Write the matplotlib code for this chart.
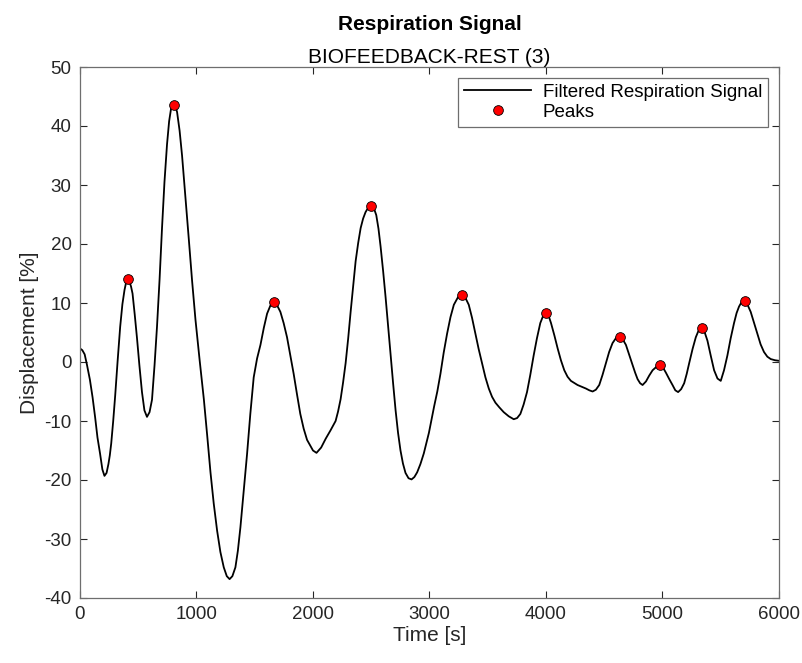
"""
Respiration signal with detected peaks (BIOFEEDBACK-REST session 3).
"""
import matplotlib
matplotlib.use("Agg")
from matplotlib import pylab as plt

plt.rcParams['font.family'] = ['Liberation Sans', 'DejaVu Sans']
plt.rcParams['axes.unicode_minus'] = False

# filtered respiration signal
time_s = [0, 20, 40, 60, 85, 108, 130, 150, 172, 192, 210, 228, 244, 256,
          268, 285, 302, 323, 345, 364, 382, 397, 411, 425, 438, 451, 470,
          489, 510, 532, 553, 575, 597, 618, 640, 661, 683, 704, 725, 747,
          765, 782, 795, 805, 818, 833, 855, 876, 905, 934, 962, 991, 1027,
          1063, 1092, 1120, 1148, 1177, 1205, 1234, 1260, 1284, 1308, 1334,
          1355, 1377, 1405, 1434, 1462, 1491, 1520, 1549, 1578, 1606, 1635,
          1664, 1692, 1720, 1748, 1777, 1805, 1834, 1862, 1891, 1920, 1949,
          2000, 2030, 2070, 2109, 2150, 2194, 2215, 2237, 2258, 2280, 2302,
          2323, 2345, 2366, 2388, 2409, 2430, 2451, 2475, 2500, 2522, 2543,
          2562, 2580, 2602, 2623, 2645, 2666, 2688, 2709, 2730, 2751, 2772,
          2794, 2820, 2846, 2870, 2894, 2922, 2951, 2995, 3040, 3067, 3094,
          3122, 3151, 3180, 3209, 3245, 3282, 3310, 3337, 3365, 3394, 3422,
          3451, 3480, 3509, 3537, 3566, 3600, 3637, 3680, 3723, 3752, 3780,
          3808, 3837, 3865, 3894, 3922, 3951, 3977, 4003, 4023, 4043, 4072,
          4100, 4128, 4157, 4185, 4214, 4271, 4343, 4372, 4400, 4428, 4457,
          4485, 4514, 4542, 4571, 4602, 4634, 4660, 4686, 4715, 4743, 4765,
          4786, 4808, 4829, 4858, 4886, 4915, 4943, 4960, 4978, 5003, 5029,
          5058, 5086, 5110, 5134, 5160, 5186, 5208, 5229, 5258, 5286, 5311,
          5336, 5361, 5386, 5415, 5443, 5472, 5500, 5528, 5557, 5585, 5614,
          5636, 5657, 5680, 5704, 5730, 5757, 5785, 5814, 5842, 5871, 5900,
          5929, 5965, 6000]
displacement = [2.3, 2.0, 1.3, -0.5, -3.0, -6.0, -9.4, -12.8, -15.5, -18.2,
                -19.3, -18.8, -17.3, -15.8, -13.8, -10.0, -5.7, 0.2, 6.0, 9.8,
                12.2, 13.6, 14.1, 13.6, 12.8, 11.6, 8.0, 4.1, -0.6, -5.1,
                -8.2, -9.3, -8.5, -6.4, -0.5, 6.0, 14.0, 22.7, 30.5, 36.9,
                40.8, 43.0, 43.5, 43.6, 43.3, 42.4, 39.2, 35.0, 28.0, 20.8,
                13.8, 7.2, 0.3, -6.3, -12.5, -18.7, -24.0, -28.6, -32.2, -34.8,
                -36.3, -36.8, -36.3, -34.8, -32.0, -28.0, -22.0, -15.6, -8.8,
                -2.6, 0.6, 2.9, 5.8, 8.2, 9.6, 10.1, 9.6, 8.5, 6.6, 4.2, 1.2,
                -2.0, -5.4, -8.8, -11.3, -13.2, -15.0, -15.4, -14.5, -13.0,
                -11.6, -10.0, -8.4, -6.3, -3.5, -0.2, 4.0, 8.5, 13.0, 17.1,
                20.2, 22.7, 24.3, 25.4, 26.2, 26.5, 26.1, 24.9, 22.6, 19.6,
                15.4, 11.0, 6.0, 1.1, -3.7, -8.2, -12.0, -15.0, -17.2, -18.8,
                -19.7, -19.9, -19.5, -18.7, -17.3, -15.5, -12.0, -7.5, -5.0,
                -2.0, 1.6, 4.8, 7.6, 9.7, 11.0, 11.3, 10.8, 9.7, 7.5, 4.8, 2.2,
                -0.2, -2.6, -4.5, -5.9, -6.9, -7.7, -8.5, -9.2, -9.7, -9.5,
                -8.8, -7.2, -5.1, -2.2, 1.1, 4.0, 6.6, 7.9, 8.3, 7.8, 6.6, 4.5,
                2.3, 0.3, -1.4, -2.5, -3.2, -3.9, -4.5, -4.8, -5.0, -4.7, -3.9,
                -2.2, -0.2, 1.7, 3.2, 4.1, 4.3, 3.8, 2.9, 1.2, -0.5, -1.8,
                -2.9, -3.6, -3.9, -3.3, -2.3, -1.4, -0.9, -0.6, -0.5, -0.9,
                -1.8, -2.9, -3.9, -4.8, -5.1, -4.6, -3.6, -2.0, -0.2, 2.2, 4.2,
                5.4, 5.8, 5.1, 3.6, 1.0, -1.4, -2.8, -3.2, -1.4, 1.1, 4.0, 6.6,
                8.3, 9.4, 10.2, 10.4, 9.7, 8.5, 6.7, 4.8, 3.0, 1.7, 0.9, 0.5,
                0.3, 0.2]

# detected peaks
peak_t = [411, 805, 1664, 2500, 3282, 4003, 4634, 4978, 5336, 5704]
peak_y = [14.1, 43.6, 10.1, 26.5, 11.3, 8.3, 4.3, -0.5, 5.8, 10.4]

axcol = '#262626'

f = plt.figure(figsize=(8.03, 6.63), dpi=100)
ax = f.add_axes([80 / 803, 65 / 663, 699 / 803, 531 / 663])

ax.plot(time_s, displacement, color='k', lw=1.3, solid_joinstyle='round',
        label='Filtered Respiration Signal')
ax.plot(peak_t, peak_y, 'o', color='red', mec='k', mew=0.6, ms=7,
        label='Peaks')

ax.set_xlim(0, 6000)
ax.set_ylim(-40, 50)
ax.set_xticks(range(0, 6001, 1000))
ax.set_yticks(range(-40, 51, 10))
ax.tick_params(direction='in', top=True, right=True, length=5, width=0.8,
               colors=axcol, labelsize=13.5, pad=6)
for s in ax.spines.values():
    s.set_color('#6e6e6e')
    s.set_linewidth(0.9)

ax.set_xlabel('Time [s]', fontsize=15, color=axcol, labelpad=2)
ax.set_ylabel('Displacement [%]', fontsize=15, color=axcol, labelpad=4)
ax.set_title('BIOFEEDBACK-REST (3)', fontsize=15, color='k', pad=3)
ax.text(0.5, 1.062, 'Respiration Signal', transform=ax.transAxes,
        ha='center', va='bottom', fontsize=15, fontweight='bold', color='k')

leg = ax.legend(loc='upper right', fontsize=13.5, frameon=True, fancybox=False,
                edgecolor='#6e6e6e', framealpha=1, handlelength=3.6,
                borderaxespad=0.6, borderpad=0.3, labelspacing=0.15,
                handletextpad=0.6)
leg.get_frame().set_linewidth(0.9)

f.savefig('out.png', dpi=100)
